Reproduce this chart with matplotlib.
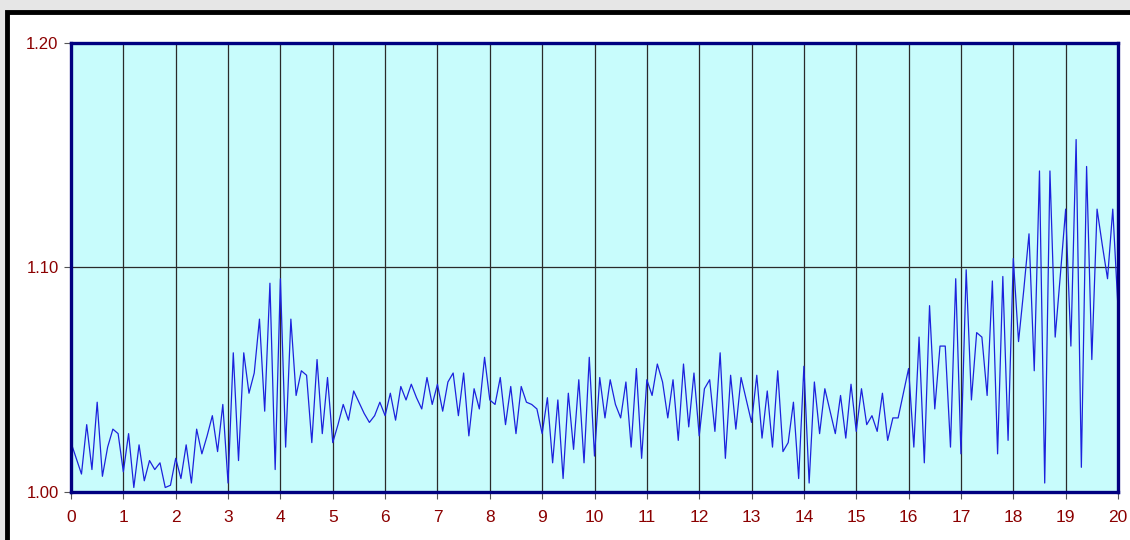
import numpy as np
import matplotlib.pyplot as plt
from matplotlib.patches import Rectangle

# values, one point every 0.1 on x
vals_0_5 = [1.022, 1.015, 1.008, 1.030, 1.010, 1.040, 1.007, 1.020, 1.028, 1.026,
            1.009, 1.026, 1.002, 1.021, 1.005, 1.014, 1.010, 1.013, 1.002, 1.003,
            1.015, 1.006, 1.021, 1.004, 1.028, 1.017, 1.025, 1.034, 1.018, 1.039,
            1.004, 1.062, 1.014, 1.062, 1.044, 1.053, 1.077, 1.036, 1.093, 1.010,
            1.095, 1.020, 1.077, 1.043, 1.054, 1.052, 1.022, 1.059, 1.026, 1.051]
vals_5_10 = [1.022, 1.030, 1.039, 1.032, 1.045, 1.040, 1.035, 1.031, 1.034, 1.040,
             1.034, 1.044, 1.032, 1.047, 1.041, 1.048, 1.042, 1.037, 1.051, 1.039,
             1.048, 1.036, 1.049, 1.053, 1.034, 1.053, 1.025, 1.046, 1.037, 1.060,
             1.041, 1.039, 1.051, 1.030, 1.047, 1.026, 1.047, 1.040, 1.039, 1.037,
             1.026, 1.042, 1.013, 1.041, 1.006, 1.044, 1.019, 1.050, 1.013, 1.060]
vals_10_15 = [1.016, 1.051, 1.033, 1.050, 1.039, 1.033, 1.049, 1.020, 1.055, 1.015,
              1.050, 1.043, 1.057, 1.049, 1.033, 1.050, 1.023, 1.057, 1.029, 1.053,
              1.025, 1.046, 1.050, 1.027, 1.062, 1.015, 1.052, 1.028, 1.051, 1.041,
              1.031, 1.052, 1.024, 1.045, 1.020, 1.054, 1.018, 1.022, 1.040, 1.006,
              1.056, 1.004, 1.049, 1.026, 1.046, 1.036, 1.026, 1.043, 1.024, 1.048]
vals_15_20 = [1.027, 1.046, 1.030, 1.034, 1.027, 1.044, 1.023, 1.033, 1.033, 1.044,
              1.055, 1.020, 1.069, 1.013, 1.083, 1.037, 1.065, 1.065, 1.020, 1.095,
              1.017, 1.099, 1.041, 1.071, 1.069, 1.043, 1.094, 1.017, 1.096, 1.023,
              1.104, 1.067, 1.090, 1.115, 1.054, 1.143, 1.004, 1.143, 1.069, 1.097,
              1.126, 1.065, 1.157, 1.011, 1.145, 1.059, 1.126, 1.110, 1.095, 1.126,
              1.082]

y = np.array(vals_0_5 + vals_5_10 + vals_10_15 + vals_15_20)
x = np.linspace(0, 20, len(y))

x_ticks = list(range(0, 21))
y_ticks = [1.00, 1.10, 1.20]
y_labels = ['1.00', '1.10', '1.20']

plt.rcParams['font.family'] = ['Liberation Sans', 'DejaVu Sans']

W, H = 1130, 540
fig = plt.figure(figsize=(W / 100, H / 100), dpi=100)
fig.patch.set_facecolor('#e6e6e6')

# white panel with black frame
fig.patches.append(Rectangle((7 / W, -0.05), 1.1, (H - 12) / H + 0.05,
                             transform=fig.transFigure, facecolor='white',
                             edgecolor='black', linewidth=3.5, zorder=-5))

ax = fig.add_axes([71 / W, (H - 492) / H, (1118 - 71) / W, (492 - 43) / H])
ax.set_zorder(2)
ax.set_facecolor('#c8fcfc')

for xv in x_ticks[1:-1]:
    ax.axvline(xv, color='#2a2a2a', linewidth=0.9, zorder=1)
ax.axhline(1.10, color='#2a2a2a', linewidth=0.9, zorder=1)

ax.plot(x, y, color='#1c22dd', linewidth=0.9, zorder=2)

ax.set_xlim(0, 20)
ax.set_ylim(1.00, 1.20)
ax.set_xticks(x_ticks)
ax.set_yticks(y_ticks)
ax.set_yticklabels(y_labels)

for s in ax.spines.values():
    s.set_color('#000080')
    s.set_linewidth(2.4)
    s.set_zorder(3)

ax.tick_params(axis='both', colors='#555555', length=5, width=0.8,
               labelcolor='#8b0000')
ax.tick_params(axis='x', pad=8, labelsize=12.5)
ax.tick_params(axis='y', pad=4, labelsize=12)

fig.savefig('out.png', dpi=100, facecolor=fig.get_facecolor())
